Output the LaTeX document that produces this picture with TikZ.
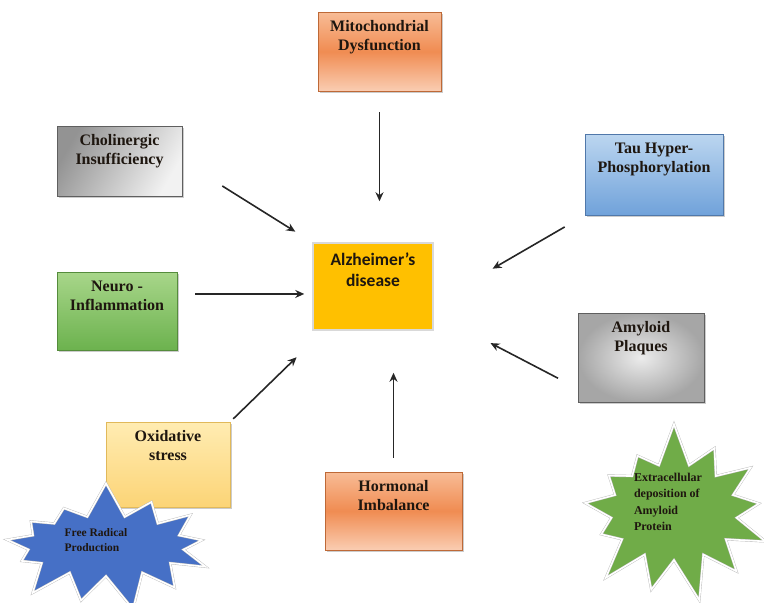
\documentclass[tikz,border=0pt]{standalone}
\usepackage{fontspec}
\setmainfont{Liberation Serif}
\newfontfamily\calfont{Carlito}
\usetikzlibrary{arrows.meta,positioning,calc,shadows,shapes.symbols}
\definecolor{orangetop}{RGB}{248,188,150}
\definecolor{orangemid}{RGB}{240,140,82}
\definecolor{orangebot}{RGB}{250,205,178}
\definecolor{orangeedge}{RGB}{190,105,55}
\definecolor{bluetop}{RGB}{188,214,240}
\definecolor{bluebot}{RGB}{112,162,218}
\definecolor{blueedge}{RGB}{80,120,170}
\definecolor{greentop}{RGB}{168,214,138}
\definecolor{greenbot}{RGB}{108,178,78}
\definecolor{greenedge}{RGB}{85,140,60}
\definecolor{yellowtop}{RGB}{255,236,178}
\definecolor{yellowbot}{RGB}{252,212,118}
\definecolor{yellowedge}{RGB}{225,185,90}
\definecolor{grayedge}{RGB}{95,95,95}
\definecolor{alzcolor}{RGB}{255,192,0}
\definecolor{starblue}{RGB}{70,112,198}
\definecolor{stargreen}{RGB}{112,172,72}
\definecolor{txtcolor}{RGB}{30,22,15}
\tikzset{
  cause/.style = {rectangle, inner sep=0pt, line width=0.8pt,
                  drop shadow={shadow xshift=1.5pt, shadow yshift=-2pt, opacity=0.4}},
  orangebox/.style = {cause, draw=orangeedge, top color=orangetop,
                      bottom color=orangebot, middle color=orangemid},
  bluebox/.style   = {cause, draw=blueedge, top color=bluetop, bottom color=bluebot},
  greenbox/.style  = {cause, draw=greenedge, top color=greentop, bottom color=greenbot},
  yellowbox/.style = {cause, draw=yellowedge, top color=yellowtop, bottom color=yellowbot},
  graybox/.style   = {cause, draw=grayedge, left color=gray!85, right color=gray!10,
                      shading angle=60},
  plaquebox/.style = {cause, draw=grayedge, inner color=gray!15, outer color=gray!70},
  alzbox/.style    = {rectangle, inner sep=0pt, fill=alzcolor, draw=gray!30,
                      line width=1.5pt},
  boxtext/.style   = {inner sep=0pt, align=center, text=txtcolor,
                      font=\bfseries\fontsize{16}{19}\selectfont},
  burst/.style     = {starburst, starburst points=13, random starburst=7,
                      draw=gray!55, double=white, double distance=1.6pt, inner sep=0pt},
  bursttext/.style = {inner sep=0pt, align=left, text=txtcolor,
                      font=\bfseries\fontsize{12}{16.5}\selectfont},
  arrow/.style     = {-{Stealth[length=9pt,width=8pt]}, line width=1.6pt, draw=black!85}
}
\begin{document}
\begin{tikzpicture}[x=1pt,y=-1pt]
\useasboundingbox (0,0) rectangle (764,603);

% --- cause boxes ---
\foreach \name/\sty/\px/\py/\w/\h in {
    mito/orangebox/379.5/51.5/123/79,
    cho/graybox/119.5/161/125/70,
    tau/bluebox/654/174.5/138/81,
    neuro/greenbox/117/311/120/78,
    amy/plaquebox/641/357.5/126/89,
    oxi/yellowbox/168/464.5/124/85,
    horm/orangebox/393.5/511/137/78}{
  \node[\sty, minimum width=\w pt, minimum height=\h pt] (\name) at (\px,\py) {};
}

% --- box labels ---
\foreach \name/\txt in {
    mito/{Mitochondrial\\Dysfunction},
    cho/{Cholinergic\\Insufficiency},
    tau/{Tau Hyper-\\Phosphorylation},
    neuro/{Neuro -\\Inflammation},
    amy/{Amyloid\\Plaques},
    oxi/{Oxidative\\stress},
    horm/{Hormonal\\Imbalance}}{
  \node[boxtext, below=9pt of \name.north] (\name-txt) {\txt};
}

% --- centre ---
\node[alzbox, minimum width=120pt, minimum height=87pt] (alz) at (373,286.5) {};
\node[boxtext, font=\calfont\bfseries\fontsize{17.5}{21}\selectfont,
      below=10pt of alz.north] (alz-txt) {Alzheimer’s\\disease};

% --- starbursts ---
\node[burst, fill=starblue, starburst point height=36pt,
      minimum width=228pt, minimum height=132pt] (radical) at (106,546) {};
\node[bursttext, font=\bfseries\fontsize{11.5}{15}\selectfont] (radical-txt) at (96,540)
  {Free Radical\\Production};
\node[burst, fill=stargreen, starburst point height=44pt,
      minimum width=214pt, minimum height=184pt] (extra) at (674,512) {};
\node[bursttext] (extra-txt) at (668,502)
  {Extracellular\\deposition of\\Amyloid\\Protein};

% --- arrows to centre ---
\draw[arrow, shorten <=21pt, shorten >=41pt] (mito.south) -- (mito.south |- alz.north);
\draw[arrow, shorten <=47pt, shorten >=20pt] (cho.east) -- (alz.north west);
\draw[arrow, shorten <=23pt, shorten >=68pt] (tau.south west) -- (alz.-15);
\draw[arrow, shorten <=18pt, shorten >=8pt] (neuro.east |- alz.187) -- (alz.187);
\draw[arrow, shorten <=22pt, shorten >=64pt] (amy.206) -- (alz.-24);
\draw[arrow, shorten <=4pt, shorten >=38pt] (oxi.north east) -- (alz.222);
\draw[arrow, shorten <=14pt, shorten >=42pt] (horm.north) -- (horm.north |- alz.south);

\end{tikzpicture}
\end{document}
